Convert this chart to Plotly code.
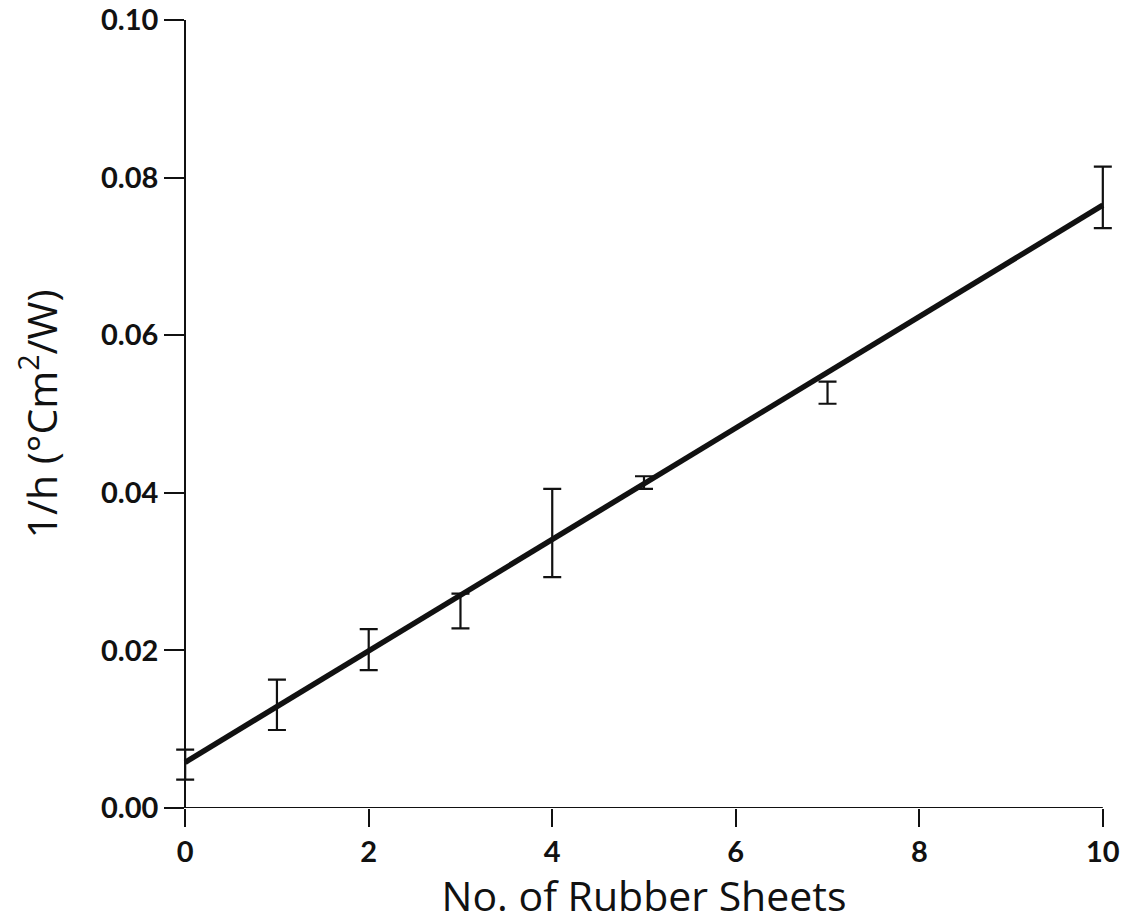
import plotly.graph_objects as go

# Measured thermal resistance per number of rubber sheets
sheets = [0, 1, 2, 3, 4, 5, 7, 10]
inv_h_mean = [0.0055, 0.0131, 0.0201, 0.0250, 0.0349, 0.0413, 0.0527, 0.0775]
inv_h_err = [0.0019, 0.0032, 0.0026, 0.0022, 0.0056, 0.0008, 0.0014, 0.0039]

# Least-squares fit line end points
fit_x = [0, 10]
fit_y = [0.0058, 0.0765]

x_ticks = [0, 2, 4, 6, 8, 10]
y_ticks = [0.00, 0.02, 0.04, 0.06, 0.08, 0.10]
y_tick_text = ["0.00", "0.02", "0.04", "0.06", "0.08", "0.10"]

ink = "#111111"
tick_family = "Lato, 'Open Sans', sans-serif"
title_family = "'Open Sans', Lato, sans-serif"

# Canvas geometry: axes run from x=0 at 185 px to x=10 at 1103 px.
W, H = 1132, 923
ax_left, ax_right = 185, 1103
x_min, x_max = x_ticks[0], x_ticks[-1]
# A little room either side of the x axis so the end caps of the error bars
# are not clipped by the plotting area.
x_pad = 0.1
px_per_unit = (ax_right - ax_left) / (x_max - x_min)
m_left = ax_left - x_pad * px_per_unit
m_right = W - ax_right - x_pad * px_per_unit
plot_w = W - m_left - m_right
y_axis_pos = (ax_left - m_left) / plot_w

fig = go.Figure()

fig.add_trace(go.Scatter(
    x=sheets, y=inv_h_mean,
    mode="markers",
    marker=dict(size=1, color=ink, opacity=0),
    error_y=dict(type="data", array=inv_h_err, visible=True,
                 color=ink, thickness=2.2, width=9),
    showlegend=False, hoverinfo="skip",
))

fig.add_trace(go.Scatter(
    x=fit_x, y=fit_y,
    mode="lines",
    line=dict(color=ink, width=5.5),
    showlegend=False,
))

# x-axis line drawn between the first and last tick only
fig.add_shape(type="line", xref="x", yref="y",
              x0=x_min, x1=x_max, y0=y_ticks[0], y1=y_ticks[0],
              line=dict(color=ink, width=2), layer="above")

fig.update_layout(
    width=W, height=H,
    margin=dict(l=m_left, r=m_right, t=20, b=115, autoexpand=False),
    paper_bgcolor="white",
    plot_bgcolor="white",
    font=dict(family=tick_family, color=ink),
)

fig.update_xaxes(
    range=[x_min - x_pad, x_max + x_pad],
    automargin=False,
    tickmode="array", tickvals=x_ticks,
    ticks="outside", ticklen=18, tickwidth=2, tickcolor=ink,
    showline=False,
    showgrid=False, zeroline=False,
    tickfont=dict(size=29, family=tick_family, weight="bold"),
    title=dict(text="No. of Rubber Sheets",
               font=dict(size=41, family=title_family), standoff=8),
)

fig.update_yaxes(
    range=[y_ticks[0], y_ticks[-1]],
    anchor="free", position=y_axis_pos,
    automargin=False,
    tickmode="array", tickvals=y_ticks, ticktext=y_tick_text,
    ticks="outside", ticklen=20, tickwidth=2, tickcolor=ink,
    showline=True, linecolor=ink, linewidth=2,
    showgrid=False, zeroline=False,
    tickfont=dict(size=29, family=tick_family, weight="bold"),
    title=dict(text="1/h (°Cm<sup>2</sup>/W)",
               font=dict(size=41, family=title_family), standoff=30),
)

fig.write_html("out.html")
